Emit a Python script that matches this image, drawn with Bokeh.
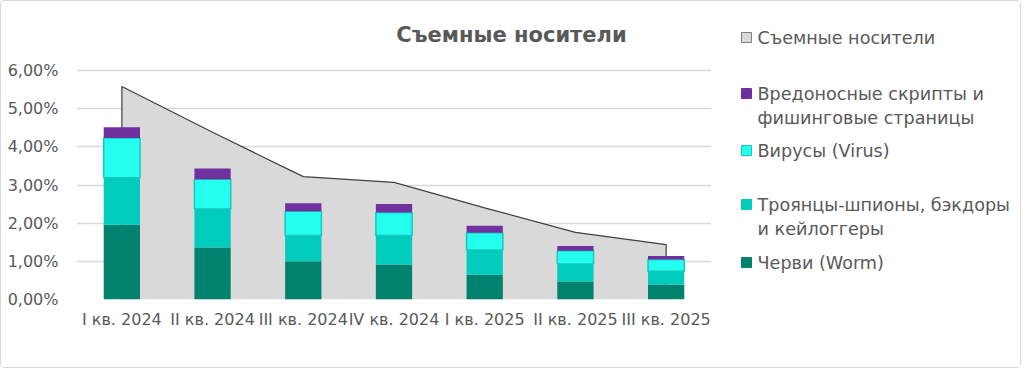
from bokeh.plotting import figure
from bokeh.layouts import row
from bokeh.models import Range1d, FactorRange, FixedTicker, Label
from bokeh.core.properties import value
from bokeh.embed import file_html
from bokeh.resources import INLINE

# ---- data ----
CATS = ["I кв. 2024", "II кв. 2024", "III кв. 2024", "IV кв. 2024",
        "I кв. 2025", "II кв. 2025", "III кв. 2025"]
AREA = [5.58, 4.38, 3.22, 3.07, 2.40, 1.76, 1.44]      # Съемные носители
WORM = [1.96, 1.36, 1.00, 0.92, 0.65, 0.47, 0.39]      # Черви (Worm)
TROJAN = [1.23, 1.01, 0.68, 0.76, 0.65, 0.46, 0.35]    # Троянцы-шпионы...
VIRUS = [1.04, 0.78, 0.63, 0.60, 0.45, 0.35, 0.31]     # Вирусы (Virus)
SCRIPTS = [0.28, 0.28, 0.21, 0.22, 0.18, 0.12, 0.09]   # Вредоносные скрипты...
TICKS = [0, 1, 2, 3, 4, 5, 6]
TICK_LABELS = ["0,00%", "1,00%", "2,00%", "3,00%", "4,00%", "5,00%", "6,00%"]
TITLE = "Съемные носители"
LEGEND_LABELS = ["Съемные носители",
                 "Вредоносные скрипты и\nфишинговые страницы",
                 "Вирусы (Virus)",
                 "Троянцы-шпионы, бэкдоры\nи кейлоггеры",
                 "Черви (Worm)"]

# ---- styles ----
C_AREA = "#D9D9D9"
C_LINE = "#404040"
C_WORM = "#00826E"
C_TROJAN = "#00CCBE"
C_VIRUS = "#24FFF0"
C_VIRUS_EDGE = "#14C8BC"
C_SCRIPTS = "#7030A0"
TXT = "#595959"
FONT = "DejaVu Sans"

H = 366
WM = 725
WL = 294
# page layout: frame from y=10 (top) to y=299 (bottom); 6% gridline at y=70
FRAME_TOP, FRAME_BOT, GRID6 = 10, 299, 70
Y_END = 6 * (FRAME_BOT - FRAME_TOP) / (FRAME_BOT - GRID6)

# ---- main chart ----
p = figure(width=WM, height=H, x_range=FactorRange(*CATS, range_padding=0),
           y_range=Range1d(0, Y_END), output_backend="svg",
           toolbar_location=None,
           min_border_left=75, min_border_right=15,
           min_border_top=FRAME_TOP - 1, min_border_bottom=H - (FRAME_BOT - 1))
p.outline_line_color = None
p.background_fill_color = "white"
p.border_fill_color = "white"

# area + outline
p.varea(x=CATS, y1=[0] * len(CATS), y2=AREA, fill_color=C_AREA)
p.line(x=[CATS[0]] + CATS + [CATS[-1]], y=[0] + AREA + [0],
       line_color=C_LINE, line_width=1.2)

# stacked bars
src = dict(cats=CATS, worm=WORM, trojan=TROJAN, virus=VIRUS, scripts=SCRIPTS)
p.vbar_stack(["worm", "trojan", "virus", "scripts"], x="cats", width=0.4,
             source=src,
             fill_color=[C_WORM, C_TROJAN, C_VIRUS, C_SCRIPTS],
             line_color=[None, None, C_VIRUS_EDGE, None],
             line_width=[0, 0, 1.5, 0])

# axes
for ax in (p.xaxis, p.yaxis):
    ax.axis_line_color = None
    ax.major_tick_line_color = None
    ax.minor_tick_line_color = None
    ax.major_tick_out = 0
    ax.major_tick_in = 0
    ax.minor_tick_out = 0
    ax.minor_tick_in = 0
    ax.major_label_text_font = FONT
    ax.major_label_text_font_size = "16px"
    ax.major_label_text_color = TXT
p.xaxis.major_label_standoff = 10
p.xgrid.grid_line_color = None

p.yaxis.ticker = FixedTicker(ticks=TICKS)
p.yaxis.major_label_overrides = {t: l for t, l in zip(TICKS, TICK_LABELS)}
p.yaxis.major_label_standoff = 18
p.ygrid.ticker = FixedTicker(ticks=TICKS)
p.ygrid.grid_line_color = "#D9D9D9"
p.ygrid.grid_line_width = 1.6

# title, inside the (tall) frame; screen units from frame bottom-left
p.add_layout(Label(x=511 - 76, y=FRAME_BOT - 34, x_units="screen",
                   y_units="screen", text=TITLE, text_font=FONT,
                   text_font_style="bold", text_font_size="21px",
                   text_color=TXT, text_align="center",
                   text_baseline="middle"))

# ---- legend panel (page pixel coordinates, frame aligned with main) ----
q = figure(width=WL, height=H, x_range=Range1d(WM + 1, WM + 1 + WL),
           y_range=Range1d(FRAME_BOT, FRAME_TOP), output_backend="svg",
           toolbar_location=None, x_axis_type=None, y_axis_type=None,
           min_border_left=0, min_border_right=0,
           min_border_top=FRAME_TOP - 1, min_border_bottom=H - (FRAME_BOT - 1))
q.outline_line_color = None
q.background_fill_color = "white"
q.border_fill_color = "white"

leg_fill = [C_AREA, C_SCRIPTS, C_VIRUS, C_TROJAN, C_WORM]
leg_edge = ["#7F7F7F", C_SCRIPTS, C_VIRUS_EDGE, C_TROJAN, C_WORM]
leg_y = [37, 93, 150, 204, 262]
for lab, fc, ec, yy in zip(LEGEND_LABELS, leg_fill, leg_edge, leg_y):
    q.rect(x=[746], y=[yy], width=10, height=10, fill_color=fc,
           line_color=ec, line_width=1)
    lines = lab.split("\n")
    q.text(x=[757] * len(lines), y=[yy + 24 * i for i in range(len(lines))],
           text=lines, text_font=value(FONT), text_font_size="17.6px",
           text_color=TXT, text_align="left", text_baseline="middle")

layout = row(p, q, styles={"border": "1px solid #D9D9D9",
                           "border-radius": "4px"})
open("out.html", "w").write(file_html(layout, INLINE))
